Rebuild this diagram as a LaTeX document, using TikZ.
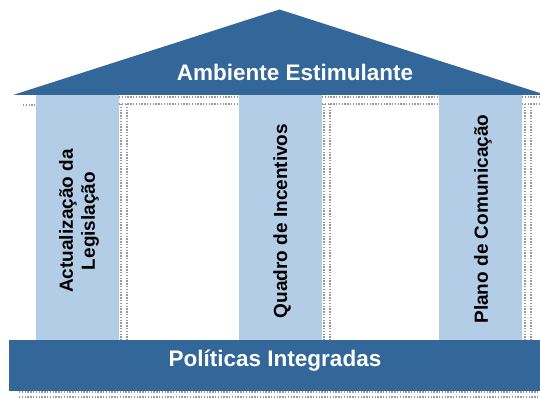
\documentclass[tikz,border=0pt]{standalone}
\usepackage{fontspec}
\setmainfont{Liberation Sans}
\usepackage{tikz}
\usetikzlibrary{positioning}

\definecolor{darkblue}{RGB}{51,102,153}
\definecolor{paleblue}{RGB}{180,205,230}

\begin{document}
\begin{tikzpicture}[x=1pt, y=-1pt,
  every node/.style={font=\bfseries},
  dots/.style={gray!80, line width=1.1pt, dash pattern=on 1.4pt off 1.4pt},
  bigtext/.style={white, font=\fontsize{22.5}{27}\selectfont\bfseries},
  piltext/.style={black, rotate=90, align=center,
    font=\fontsize{19}{22}\selectfont\bfseries}]
  \useasboundingbox (0,0) rectangle (540,398);
  \begin{scope}
  \clip (0,0) rectangle (540,398);
  % shadow dots
  \draw[dots] (23,105) -- (35,105);
  \draw[dots] (119,97) -- (239,97);
  \draw[dots] (119,104) -- (239,104);
  \draw[dots] (322,97) -- (439,97);
  \draw[dots] (322,104) -- (439,104);
  \draw[dots] (522,97) -- (540,97);
  \draw[dots] (522,104) -- (540,104);
  \draw[dots] (121,104) -- (121,340);
  \draw[dots] (127,104) -- (127,340);
  \draw[dots] (324,104) -- (324,340);
  \draw[dots] (330,104) -- (330,340);
  \draw[dots] (525,104) -- (525,340);
  \draw[dots] (531,104) -- (531,340);
  \draw[dots] (19,392) -- (540,392);
  \draw[dots] (19,397) -- (540,397);
  % pillars
  \fill[paleblue] (36,94) rectangle (119,340);
  \fill[paleblue] (239,94) rectangle (322,340);
  \fill[paleblue] (439,94) rectangle (522,340);
  % roof and base
  \fill[darkblue] (13,95) -- (279.5,9.5) -- (546,95) -- cycle;
  \fill[darkblue] (9,340) rectangle (550,391);
  \end{scope}
  \node[bigtext] (roof) at (295,72) {Ambiente Estimulante};
  \node[bigtext] (base) at (275,361) {Políticas Integradas};
  \node[piltext] (leis) at (79,221) {Actualização da\\Legislação};
  \node[piltext] (incent) at (282,221) {Quadro de Incentivos};
  \node[piltext] (comun) at (483,219) {Plano de Comunicação};
\end{tikzpicture}
\end{document}
